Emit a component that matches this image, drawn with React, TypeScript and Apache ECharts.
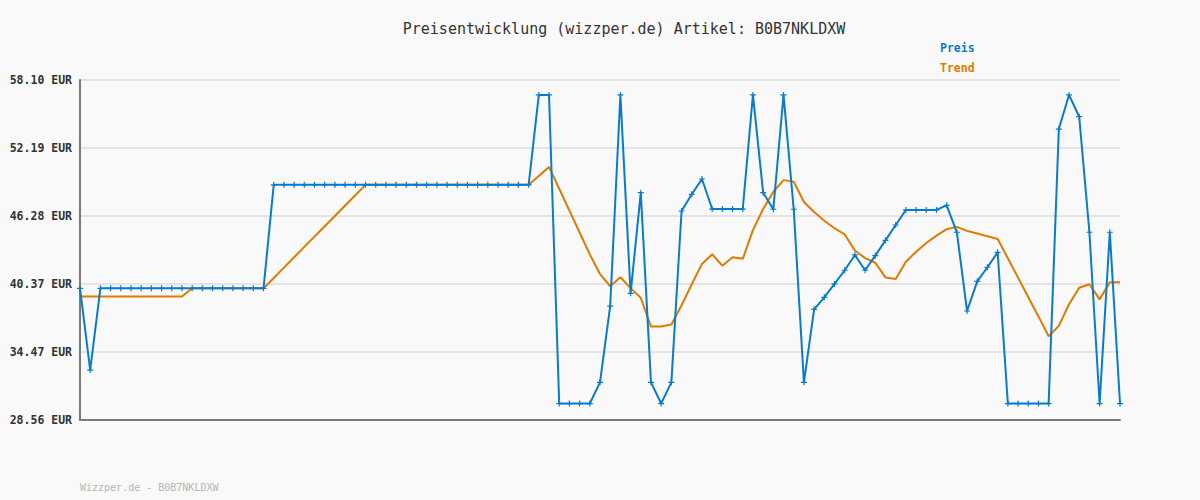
import React, { useEffect, useRef } from "react";
import * as echarts from "echarts";

const title = "Preisentwicklung (wizzper.de) Artikel: B0B7NKLDXW";
const footer = "Wizzper.de - B0B7NKLDXW";
const yMin = 28.56;
const yMax = 58.1;
const yTickLabels = ["28.56 EUR", "34.47 EUR", "40.37 EUR", "46.28 EUR", "52.19 EUR", "58.10 EUR"];

const preis = [
  40.0, 32.9, 40.0, 40.0, 40.0, 40.0, 40.0, 40.0, 40.0, 40.0,
  40.0, 40.0, 40.0, 40.0, 40.0, 40.0, 40.0, 40.0, 40.0, 48.99,
  48.99, 48.99, 48.99, 48.99, 48.99, 48.99, 48.99, 48.99, 48.99, 48.99,
  48.99, 48.99, 48.99, 48.99, 48.99, 48.99, 48.99, 48.99, 48.99, 48.99,
  48.99, 48.99, 48.99, 48.99, 48.99, 56.8, 56.8, 29.99, 29.99, 29.99,
  29.99, 31.83, 38.46, 56.8, 39.57, 48.31, 31.83, 29.99, 31.83, 46.72,
  48.17, 49.5, 46.89, 46.89, 46.89, 46.89, 56.8, 48.31, 46.87, 56.8,
  46.87, 31.83, 38.18, 39.22, 40.38, 41.57, 42.9, 41.57, 42.84, 44.17,
  45.5, 46.81, 46.81, 46.81, 46.81, 47.21, 44.87, 38.03, 40.61, 41.83,
  43.13, 29.99, 29.99, 29.99, 29.99, 29.99, 53.84, 56.8, 54.91, 44.87,
  29.99, 44.87, 29.99,
];

const trend = [
  39.29, 39.29, 39.29, 39.29, 39.29, 39.29, 39.29, 39.29, 39.29, 39.29,
  39.29, 40.0, 40.0, 40.0, 40.0, 40.0, 40.0, 40.0, 40.0, 40.9,
  41.8, 42.7, 43.6, 44.49, 45.39, 46.29, 47.19, 48.09, 48.99, 48.99,
  48.99, 48.99, 48.99, 48.99, 48.99, 48.99, 48.99, 48.99, 48.99, 48.99,
  48.99, 48.99, 48.99, 48.99, 48.99, 49.77, 50.55, 48.65, 46.75, 44.85,
  42.95, 41.24, 40.18, 40.96, 40.02, 39.17, 36.68, 36.68, 36.86, 38.53,
  40.35, 42.12, 42.96, 41.97, 42.7, 42.56, 45.06, 46.89, 48.39, 49.4,
  49.27, 47.5, 46.63, 45.87, 45.22, 44.68, 43.29, 42.62, 42.22, 40.95,
  40.82, 42.31, 43.18, 43.94, 44.58, 45.14, 45.34, 44.99, 44.76, 44.53,
  44.29, 42.61, 40.93, 39.25, 37.56, 35.84, 36.74, 38.62, 40.05, 40.35,
  39.04, 40.52, 40.52,
];

const categories = preis.map((_, i) => String(i + 1));

const BLUE = "#0a7bcc";
const ORANGE = "#e07a00";
const MONO = "'DejaVu Sans Mono', monospace";

export default function App() {
  const ref = useRef<HTMLDivElement>(null);
  useEffect(() => {
    document.body.style.margin = "0";
    const chart = echarts.init(ref.current!, null, { renderer: "svg" });
    chart.setOption({
      animation: false,
      backgroundColor: "#f9f9f9",
      title: {
        text: title,
        left: 619,
        textAlign: "center",
        top: 16,
        textStyle: { fontFamily: MONO, fontSize: 15, fontWeight: "normal", color: "#333" },
      },
      graphic: [
        {
          type: "text",
          left: 80,
          top: 482,
          style: { text: footer, fontFamily: MONO, fontSize: 10, fill: "#b5b5b5" },
        },
      ],
      legend: {
        orient: "vertical",
        left: 930,
        top: 36,
        itemWidth: 0,
        itemHeight: 14,
        itemGap: 6,
        icon: "rect",
        selectedMode: false,
        textStyle: { fontFamily: MONO, fontSize: 11.5, fontWeight: "bold" },
        data: [
          { name: "Preis", textStyle: { color: BLUE } },
          { name: "Trend", textStyle: { color: ORANGE } },
        ],
      },
      grid: { left: 80, right: 80, top: 80, bottom: 80, containLabel: false },
      xAxis: {
        type: "category",
        data: categories,
        boundaryGap: false,
        axisLine: { show: true, lineStyle: { color: "#7a7a7a", width: 2 } },
        axisTick: { show: false },
        axisLabel: { show: false },
        splitLine: { show: false },
      },
      yAxis: [
        {
          type: "value",
          min: yMin,
          max: yMax,
          show: false,
        },
        {
          type: "value",
          position: "left",
          min: 0,
          max: yTickLabels.length - 1,
          interval: 1,
          axisLine: { show: true, lineStyle: { color: "#7a7a7a", width: 2 } },
          axisTick: { show: false },
          axisLabel: {
            formatter: (v: number) => yTickLabels[Math.round(v)],
            fontFamily: MONO,
            fontSize: 11.5,
            fontWeight: "bold",
            color: "#333",
            margin: 8,
          },
          splitLine: { show: true, lineStyle: { color: "#e4e4e4", width: 2 } },
        },
      ],
      series: [
        {
          name: "Trend",
          type: "line",
          yAxisIndex: 0,
          data: trend,
          symbol: "none",
          itemStyle: { color: ORANGE },
          lineStyle: { color: ORANGE, width: 2 },
          z: 2,
        },
        {
          name: "Preis",
          type: "line",
          yAxisIndex: 0,
          data: preis,
          symbol: "path://M2,0H3V2H5V3H3V5H2V3H0V2H2Z",
          symbolSize: 6,
          showAllSymbol: true,
          itemStyle: { color: BLUE },
          lineStyle: { color: BLUE, width: 2 },
          z: 3,
        },
      ],
    });
    return () => chart.dispose();
  }, []);
  return <div ref={ref} style={{ width: 1200, height: 500 }} />;
}
